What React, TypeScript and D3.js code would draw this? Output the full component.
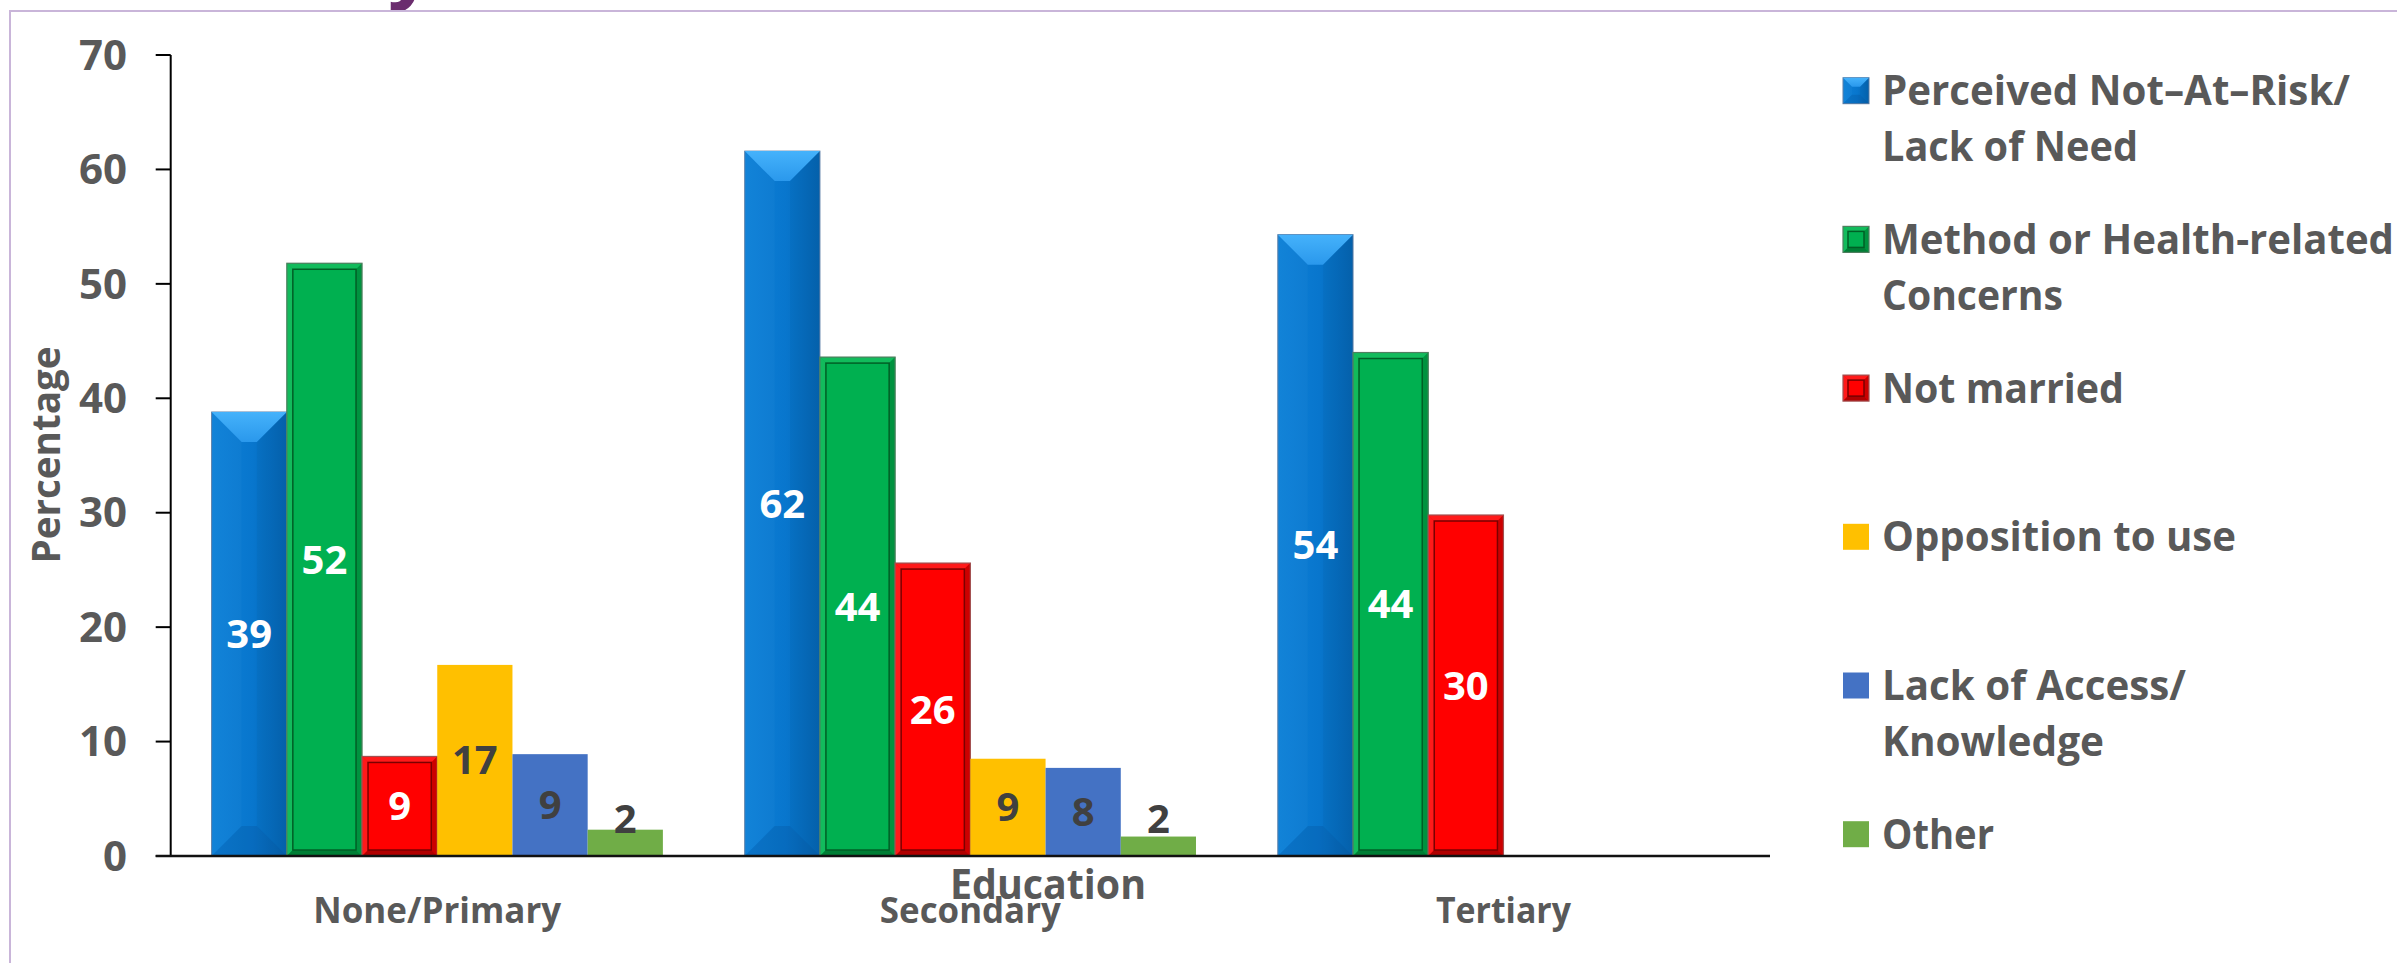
import React from "react";
import * as d3 from "d3";

const categories = ["None/Primary", "Secondary", "Tertiary"];
const seriesNames = [
  "Perceived Not–At–Risk/\nLack of Need",
  "Method or Health-related\nConcerns",
  "Not married",
  "Opposition to use",
  "Lack of Access/\nKnowledge",
  "Other",
];
const notAtRisk = [38.8, 61.6, 54.3];
const methodHealth = [51.8, 43.6, 44.0];
const notMarried = [8.7, 25.6, 29.8];
const opposition = [16.7, 8.5, null];
const lackAccess = [8.9, 7.7, null];
const otherReason = [2.3, 1.7, null];
const yTicks = [0, 10, 20, 30, 40, 50, 60, 70];

const seriesValues = [notAtRisk, methodHealth, notMarried, opposition, lackAccess, otherReason];

// layout / styles
const W = 2397;
const H = 963;
const PLOT = { left: 170.7, right: 1770, top: 55, bottom: 856 };
const TEXT = "#595959";
const FONT = "'Open Sans', 'Noto Sans', sans-serif";
const seriesStyle = ["blue", "green", "red", "flat", "flat", "flat"];
const seriesColors = ["#0a78d0", "#00b050", "#ff0000", "#ffc000", "#4472c4", "#70ad47"];
const labelColors = ["#ffffff", "#ffffff", "#ffffff", "#404040", "#404040", "#404040"];
const legendWidths = [[468, 256], [512, 181], [242], [354], [304, 222], [112]];
const catWidths = [248, 181, 135];

function BlueBar({ x, y, w, h, d }: any) {
  const dd = Math.min(d, h / 2, w / 2 - 2);
  return (
    <g>
      <rect x={x} y={y} width={w} height={h} fill="url(#blueGrad)" stroke="#5a7da6" strokeWidth={1} />
      <polygon
        points={`${x},${y} ${x + w},${y} ${x + w - dd},${y + dd} ${x + dd},${y + dd}`}
        fill="url(#blueTop)"
      />
      <polygon
        points={`${x},${y} ${x + dd},${y + dd} ${x + dd},${y + h - dd} ${x},${y + h}`}
        fill="rgba(255,255,255,0.025)"
      />
      <polygon
        points={`${x + w},${y} ${x + w - dd},${y + dd} ${x + w - dd},${y + h - dd} ${x + w},${y + h}`}
        fill="rgba(0,0,0,0.03)"
      />
      <polygon
        points={`${x},${y + h} ${x + dd},${y + h - dd} ${x + w - dd},${y + h - dd} ${x + w},${y + h}`}
        fill="rgba(0,30,80,0.12)"
      />
    </g>
  );
}

function FrameBar({ x, y, w, h, b, base, light, dark, darker, line, edge }: any) {
  const bb = Math.min(b, h / 3, w / 3);
  return (
    <g>
      <rect x={x} y={y} width={w} height={h} fill={base} />
      <polygon points={`${x},${y} ${x + w},${y} ${x + w - bb},${y + bb} ${x + bb},${y + bb}`} fill={light} />
      <polygon points={`${x},${y} ${x + bb},${y + bb} ${x + bb},${y + h - bb} ${x},${y + h}`} fill={light} />
      <polygon
        points={`${x + w},${y} ${x + w - bb},${y + bb} ${x + w - bb},${y + h - bb} ${x + w},${y + h}`}
        fill={dark}
      />
      <polygon
        points={`${x},${y + h} ${x + bb},${y + h - bb} ${x + w - bb},${y + h - bb} ${x + w},${y + h}`}
        fill={darker}
      />
      <rect x={x + bb} y={y + bb} width={w - 2 * bb} height={h - 2 * bb} fill="none" stroke={line} strokeWidth={1.5} />
      <rect x={x} y={y} width={w} height={h} fill="none" stroke={edge} strokeWidth={1.2} />
    </g>
  );
}

function Bar({ kind, color, x, y, w, h, small }: any) {
  if (h <= 0) return null;
  if (kind === "blue") return <BlueBar x={x} y={y} w={w} h={h} d={small ? 9 : 30} />;
  if (kind === "green")
    return (
      <FrameBar x={x} y={y} w={w} h={h} b={small ? 5 : 6} base="#00b050" light="#12bb5c" dark="#00923f"
        darker="#007e35" line="#005f26" edge="#4f7f5f" />
    );
  if (kind === "red")
    return (
      <FrameBar x={x} y={y} w={w} h={h} b={small ? 5 : 6} base="#ff0000" light="#ff1a1a" dark="#cc0000"
        darker="#b00000" line="#7a0000" edge="#a05050" />
    );
  return <rect x={x} y={y} width={w} height={h} fill={color} />;
}

export default function App() {
  const x0 = d3
    .scaleBand<string>()
    .domain(categories)
    .range([PLOT.left, PLOT.right])
    .paddingInner(0.1535)
    .paddingOuter(0.1535 / 2);
  const x1 = d3
    .scaleBand<number>()
    .domain(d3.range(seriesValues.length))
    .range([0, x0.bandwidth()]);
  const y = d3.scaleLinear().domain([0, 70]).range([PLOT.bottom, PLOT.top]);

  const legendTop = 77.7;
  const legendStep = 148.7;
  const legendX = 1843;
  const sq = 26;

  return (
    <svg
      width={W}
      height={H}
      viewBox={`0 0 ${W} ${H}`}
      style={{ position: "fixed", left: 0, top: 0, display: "block", background: "#fff" }}
      fontFamily={FONT}
    >
      <defs>
        <linearGradient id="blueGrad" x1="0" x2="1" y1="0" y2="0">
          <stop offset="0" stopColor="#0d80d8" />
          <stop offset="0.55" stopColor="#0876cd" />
          <stop offset="1" stopColor="#0564b0" />
        </linearGradient>
        <linearGradient id="blueTop" x1="0" x2="0" y1="0" y2="1">
          <stop offset="0" stopColor="#45b2fb" />
          <stop offset="1" stopColor="#2a98ec" />
        </linearGradient>
      </defs>
      <rect x={0} y={0} width={W} height={H} fill="#fff" />
      {/* clipped title fragment */}
      <text x={388} y={-7} fontSize={80} fontWeight={700} fill="#6b2d6e">
        y
      </text>
      {/* frame */}
      <rect x={10} y={11} width={W + 50} height={H + 50} fill="none" stroke="#c9b5d9" strokeWidth={2} />

      {/* bars */}
      {categories.map((c, ci) => (
        <g key={c}>
          {seriesValues.map((vals, si) => {
            const v = vals[ci];
            if (v == null) return null;
            const bx = (x0(c) as number) + (x1(si) as number);
            const by = y(v);
            return (
              <Bar key={si} kind={seriesStyle[si]} color={seriesColors[si]} x={bx} y={by}
                w={x1.bandwidth()} h={y(0) - by} />
            );
          })}
        </g>
      ))}

      {/* axes */}
      <line x1={PLOT.left} x2={PLOT.left} y1={PLOT.top} y2={PLOT.bottom} stroke="#000" strokeWidth={2} />
      {yTicks.map((t) => (
        <g key={t}>
          <line x1={PLOT.left - 15} x2={PLOT.left} y1={y(t)} y2={y(t)} stroke="#000" strokeWidth={2} />
          <text x={127} y={y(t)} dy="0.35em" textAnchor="end" fontSize={42} fontWeight={700} fill={TEXT}>
            {t}
          </text>
        </g>
      ))}
      <line x1={PLOT.left - 15} x2={PLOT.right} y1={y(0)} y2={y(0)} stroke="#111" strokeWidth={2.5} />

      {/* value labels */}
      {categories.map((c, ci) => (
        <g key={c + "l"}>
          {seriesValues.map((vals, si) => {
            const v = vals[ci];
            if (v == null) return null;
            const cx = (x0(c) as number) + (x1(si) as number) + x1.bandwidth() / 2;
            const cy = Math.min((y(v) + y(0)) / 2, y(0) - 37);
            return (
              <text key={si} x={cx} y={cy} dy="0.35em" textAnchor="middle" fontSize={40} fontWeight={700}
                fill={labelColors[si]}>
                {Math.round(v)}
              </text>
            );
          })}
        </g>
      ))}

      {/* category labels */}
      {categories.map((c, ci) => (
        <text key={c + "c"} x={(x0(c) as number) + x0.bandwidth() / 2} y={923} textAnchor="middle"
          fontSize={35} fontWeight={700} fill={TEXT} textLength={catWidths[ci]} lengthAdjust="spacingAndGlyphs">
          {c}
        </text>
      ))}
      <text x={1048} y={899} textAnchor="middle" fontSize={42} fontWeight={700} fill={TEXT} textLength={196}
        lengthAdjust="spacingAndGlyphs">
        Education
      </text>
      <text transform={`translate(60,455) rotate(-90)`} textAnchor="middle" fontSize={40} fontWeight={700}
        fill={TEXT} textLength={217} lengthAdjust="spacingAndGlyphs">
        Percentage
      </text>

      {/* legend */}
      {seriesNames.map((name, si) => {
        const top = legendTop + si * legendStep;
        const lines = name.split("\n");
        return (
          <g key={name}>
            <Bar kind={seriesStyle[si]} color={seriesColors[si]} x={legendX} y={top} w={sq} h={sq} small />
            {lines.map((ln, li) => (
              <text key={li} x={1882} y={top + 27.5 + li * 56} fontSize={42} fontWeight={700} fill={TEXT}
                textLength={legendWidths[si][li]} lengthAdjust="spacingAndGlyphs">
                {ln}
              </text>
            ))}
          </g>
        );
      })}
    </svg>
  );
}
